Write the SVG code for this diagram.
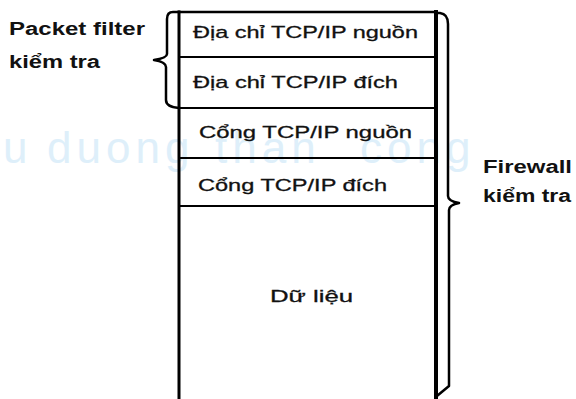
<svg xmlns="http://www.w3.org/2000/svg" width="576" height="399" viewBox="0 0 576 399">
<style>
.wm{font-family:"Liberation Sans",Arial,sans-serif;font-size:44px;fill:#deeffa;letter-spacing:5px}
.cell{font-family:"Liberation Sans",Arial,sans-serif;font-size:17px;fill:#111;stroke:#111;stroke-width:0.3px}
.lbl{font-family:"Liberation Sans",Arial,sans-serif;font-size:18px;font-weight:bold;fill:#111}
.ln{stroke:#000;fill:none;stroke-linecap:square}
</style>
<rect width="576" height="399" fill="#fff"/>
<g id="watermark">
<text class="wm" y="163"><tspan x="3">u</tspan><tspan x="47">duong</tspan><tspan x="215">than</tspan><tspan x="360">cong</tspan></text>
</g>
<g id="packet">
<path class="ln" d="M179,12 V399" stroke-width="3"/>
<path class="ln" d="M436,12 V399" stroke-width="4"/>
<path class="ln" d="M179,12 L436,12" stroke-width="2.5"/>
</g>
<g id="row1">
<path class="ln" d="M180,57 L435,57" stroke-width="2"/>
<text class="cell" x="193" y="38" textLength="225" lengthAdjust="spacingAndGlyphs">Địa chỉ TCP/IP nguồn</text>
</g>
<g id="row2">
<path class="ln" d="M180,108 L435,108" stroke-width="2"/>
<text class="cell" x="193" y="88" textLength="205" lengthAdjust="spacingAndGlyphs">Địa chỉ TCP/IP đích</text>
</g>
<g id="row3">
<path class="ln" d="M180,158 L435,158" stroke-width="2"/>
<text class="cell" x="199" y="138" textLength="213" lengthAdjust="spacingAndGlyphs">Cổng TCP/IP nguồn</text>
</g>
<g id="row4">
<path class="ln" d="M180,206 L435,206" stroke-width="2"/>
<text class="cell" x="198" y="191" textLength="189" lengthAdjust="spacingAndGlyphs">Cổng TCP/IP đích</text>
</g>
<g id="data">
<text class="cell" x="270" y="302" font-size="19" textLength="83" lengthAdjust="spacingAndGlyphs">Dữ liệu</text>
</g>
<g id="connectors">
<path class="ln" stroke-width="2.5" stroke-linejoin="round" d="M179,12 L173,12 Q167,12 167,19 L167,54 Q167,58 154,60 Q166,62 166,67 L166,100 Q166,107 179,108"/>
<path class="ln" stroke-width="2.5" stroke-linejoin="round" d="M436,13 L440,13 Q448,14 448,24 L448,196 Q448,201 459,203 Q449,205 449,210 L449,386 L437,396"/>
</g>
<g id="label-packet-filter">
<text class="lbl" x="9" y="35" textLength="136" lengthAdjust="spacingAndGlyphs">Packet filter</text>
<text class="lbl" x="9" y="68" textLength="91" lengthAdjust="spacingAndGlyphs">kiểm tra</text>
</g>
<g id="label-firewall">
<text class="lbl" x="483" y="173" textLength="89" lengthAdjust="spacingAndGlyphs">Firewall</text>
<text class="lbl" x="483" y="202" textLength="88" lengthAdjust="spacingAndGlyphs">kiểm tra</text>
</g>
</svg>
